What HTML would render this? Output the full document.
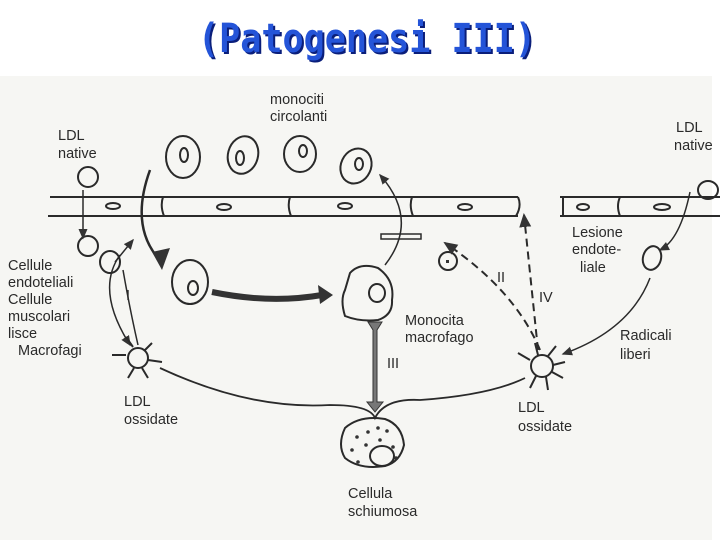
<!DOCTYPE html>
<html><head><meta charset="utf-8"><style>
html,body{margin:0;padding:0;width:720px;height:540px;overflow:hidden;background:#fff}
svg{display:block}
.t{font-family:"Liberation Sans",sans-serif;font-size:14.5px;fill:#2a2a2a}
</style></head><body>
<svg width="720" height="540" viewBox="0 0 720 540" xmlns="http://www.w3.org/2000/svg">
<defs>
<marker id="a" markerWidth="8" markerHeight="8" refX="6" refY="4" orient="auto"><path d="M0,1 L7,4 L0,7 z" fill="#333"/></marker>
</defs>
<rect x="0" y="76" width="712" height="464" fill="#f6f6f3"/>
<text x="367" y="52" text-anchor="middle" font-family="DejaVu Sans Mono,monospace" font-weight="bold" font-size="40" fill="#0a1e7a" transform="translate(2,2)" textLength="338" lengthAdjust="spacingAndGlyphs">(Patogenesi III)</text>
<text x="367" y="52" text-anchor="middle" font-family="DejaVu Sans Mono,monospace" font-weight="bold" font-size="40" fill="#2454d8" textLength="338" lengthAdjust="spacingAndGlyphs">(Patogenesi III)</text>
<g fill="none" stroke="#2a2a2a" stroke-width="2">
<path d="M50,197 L518,197 M48,216 L518,216 M560,197 L720,197 M560,216 L720,216"/>
<path d="M163,197 Q160,206 164,216 M290,197 Q287,206 291,216 M412,197 Q409,206 413,216 M518,197 Q522,206 516,216 M563,197 L563,216 M620,197 Q616,206 620,216"/>
<ellipse cx="113" cy="206" rx="7" ry="3"/><ellipse cx="224" cy="207" rx="7" ry="3"/><ellipse cx="345" cy="206" rx="7" ry="3"/><ellipse cx="465" cy="207" rx="7" ry="3"/><ellipse cx="583" cy="207" rx="6" ry="3"/><ellipse cx="662" cy="207" rx="8" ry="3"/>
<ellipse cx="183" cy="157" rx="17" ry="21"/><ellipse cx="184" cy="155" rx="4" ry="7"/>
<ellipse cx="243" cy="155" rx="15" ry="19" transform="rotate(15 243 155)"/><ellipse cx="240" cy="158" rx="4" ry="7"/>
<ellipse cx="300" cy="154" rx="16" ry="18"/><ellipse cx="303" cy="151" rx="4" ry="6"/>
<ellipse cx="356" cy="166" rx="15" ry="18" transform="rotate(25 356 166)"/><ellipse cx="359" cy="164" rx="4" ry="6"/>
<ellipse cx="88" cy="177" rx="10" ry="10"/><ellipse cx="88" cy="246" rx="10" ry="10"/><ellipse cx="110" cy="262" rx="10" ry="11"/>
<ellipse cx="708" cy="190" rx="10" ry="9"/><ellipse cx="652" cy="258" rx="9" ry="12" transform="rotate(15 652 258)"/>
<circle cx="448" cy="261" r="9"/>
<ellipse cx="190" cy="282" rx="18" ry="22"/><ellipse cx="193" cy="288" rx="5" ry="7"/>
<path d="M350,273 Q360,262 378,268 Q395,280 392,300 Q393,315 378,320 Q360,322 345,316 Q340,300 345,290 Z"/>
<ellipse cx="377" cy="293" rx="8" ry="9"/>
<path d="M345,428 Q360,415 385,419 Q402,425 404,445 Q400,462 385,466 Q360,470 345,458 Q337,445 345,428 Z"/>
<ellipse cx="382" cy="456" rx="12" ry="10"/>
<path d="M150,170 Q130,225 158,258" stroke-width="2.5"/>
<path d="M83,190 L83,238" stroke-width="1.5" marker-end="url(#a)"/>
<path d="M120,255 Q95,290 130,345" stroke-width="1.5" marker-end="url(#a)"/>
<path d="M123,270 Q130,310 138,345" stroke-width="1.5"/>
<path d="M115,262 L133,240" stroke-width="1.5" marker-end="url(#a)"/>
<path d="M385,265 Q420,220 380,175" stroke-width="1.5" marker-end="url(#a)"/>
<path d="M690,192 Q680,240 660,250" stroke-width="1.5" marker-end="url(#a)"/>
<path d="M650,278 Q630,330 563,354" stroke-width="1.5" marker-end="url(#a)"/>
<path d="M160,368 Q250,410 330,405 Q370,405 375,418 Q385,398 420,400 Q490,395 525,378" stroke-width="1.8"/>
<path d="M540,350 Q515,290 445,243" stroke-dasharray="8,5" stroke-width="2" marker-end="url(#a)"/>
<path d="M538,350 L524,215" stroke-dasharray="8,5" stroke-width="2" marker-end="url(#a)"/>
</g>
<path d="M152,252 L170,248 L162,270 z" fill="#333"/>
<rect x="381" y="234" width="40" height="5" fill="none" stroke="#2a2a2a" stroke-width="1.5"/>
<rect x="446" y="260" width="3" height="3" fill="#333"/>
<path d="M212,292 Q270,304 322,295" stroke="#333" stroke-width="6" fill="none"/>
<path d="M318,285 L333,295 L320,304 z" fill="#333"/>
<path d="M368,322 L382,322 L377,330 L377,402 L383,402 L375,412 L367,402 L373,402 L373,330 z" fill="#777" stroke="#333"/>
<g stroke="#2a2a2a" stroke-width="2" fill="none">
<circle cx="138" cy="358" r="10"/>
<path d="M126,355 L112,355 M133,347 L126,337 M145,350 L152,343 M148,360 L162,362 M142,368 L148,378 M134,368 L128,378"/>
<circle cx="542" cy="366" r="11"/>
<path d="M530,360 L518,353 M538,355 L535,343 M548,356 L556,346 M553,365 L565,362 M552,372 L563,378 M546,377 L548,390 M536,376 L530,388"/>
</g>
<g fill="#333"><circle cx="357" cy="437" r="1.8"/><circle cx="368" cy="432" r="1.8"/><circle cx="378" cy="428" r="1.8"/><circle cx="387" cy="431" r="1.8"/><circle cx="352" cy="450" r="1.8"/><circle cx="366" cy="445" r="1.8"/><circle cx="380" cy="440" r="1.8"/><circle cx="393" cy="447" r="1.8"/><circle cx="358" cy="462" r="1.8"/><circle cx="396" cy="458" r="1.8"/></g>
<text class="t" x="270" y="104">monociti</text><text class="t" x="270" y="121">circolanti</text>
<text class="t" x="58" y="140">LDL</text><text class="t" x="58" y="158">native</text>
<text class="t" x="676" y="132">LDL</text><text class="t" x="674" y="150">native</text>
<text class="t" x="572" y="237">Lesione</text><text class="t" x="572" y="254">endote-</text><text class="t" x="580" y="272">liale</text>
<text class="t" x="8" y="270">Cellule</text><text class="t" x="8" y="287">endoteliali</text><text class="t" x="8" y="304">Cellule</text><text class="t" x="8" y="321">muscolari</text><text class="t" x="8" y="338">lisce</text><text class="t" x="18" y="355">Macrofagi</text>
<text class="t" x="126" y="300">I</text>
<text class="t" x="405" y="325">Monocita</text><text class="t" x="405" y="342">macrofago</text>
<text class="t" x="387" y="368">III</text>
<text class="t" x="497" y="282">II</text><text class="t" x="539" y="302">IV</text>
<text class="t" x="620" y="340">Radicali</text><text class="t" x="620" y="359">liberi</text>
<text class="t" x="124" y="406">LDL</text><text class="t" x="124" y="424">ossidate</text>
<text class="t" x="518" y="412">LDL</text><text class="t" x="518" y="431">ossidate</text>
<text class="t" x="348" y="498">Cellula</text><text class="t" x="348" y="516">schiumosa</text>
</svg>
</body></html>
